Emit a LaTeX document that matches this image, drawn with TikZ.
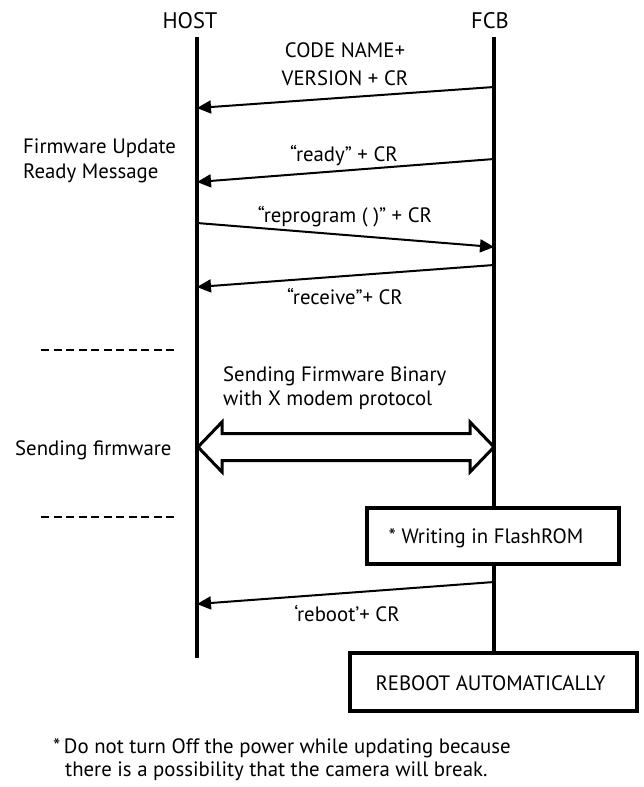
\documentclass[tikz,border=0pt]{standalone}
\usepackage{fontspec}
\setmainfont{PT Sans}
\usetikzlibrary{arrows.meta,calc}
\begin{document}
\begin{tikzpicture}[x=1pt,y=-1pt,
  lbl/.style={font=\fontsize{20.8}{24}\selectfont, inner sep=0pt, anchor=base},
  head/.style={font=\fontsize{22.5}{26}\selectfont, inner sep=0pt, anchor=base},
  lifeline/.style={line width=3.7pt},
  msg/.style={line width=2pt, -{Triangle[length=14pt,width=13pt]}},
  box/.style={draw, line width=3.2pt, inner sep=0pt},
  boxtext/.style={font=\fontsize{20.8}{24}\selectfont, inner sep=0pt, anchor=base},
  note/.style={font=\fontsize{20.8}{24}\selectfont, inner sep=0pt, anchor=base west},
  sep/.style={line width=2pt, dash pattern=on 8pt off 4.5pt}]
\useasboundingbox (0,0) rectangle (643,787);
% headings
\node[head] (host) at (190,28) {HOST};
\node[head] (fcb) at (490,28) {FCB};
% lifeline coordinates
\coordinate (hT) at (197,37);
\coordinate (hB) at (197,658);
\coordinate (fT) at (494,37);
% boxes
\node[box, minimum width=252pt, minimum height=56pt] (write) at (493,536) {};
\node[boxtext] (writet) at (486,543) {* Writing in FlashROM};
\node[box, minimum width=287pt, minimum height=58pt] (reboot) at (493.5,682) {};
\node[boxtext] (reboott) at (490.5,690) {REBOOT AUTOMATICALLY};
% lifelines
\draw[lifeline] (hT) -- (hB);
\draw[lifeline] (fT) -- (fT |- write.north);
\draw[lifeline] (fT |- write.south) -- (fT |- reboot.north);
% message end points
\coordinate (m1s) at (494,87);  \coordinate (m1e) at (197,108);
\coordinate (m2s) at (494,159); \coordinate (m2e) at (197,182);
\coordinate (m3s) at (197,223); \coordinate (m3e) at (494,247);
\coordinate (m4s) at (494,265); \coordinate (m4e) at (197,287);
\coordinate (m5s) at (494,582); \coordinate (m5e) at (197,604);
\draw[msg] (m1s) -- (m1e);
\draw[msg] (m2s) -- (m2e);
\draw[msg] (m3s) -- (m3e);
\draw[msg] (m4s) -- (m4e);
\draw[msg] (m5s) -- (m5e);
% message labels
\node[lbl] (l1a) at (345,57) {CODE NAME+};
\node[lbl] (l1b) at (345,85) {VERSION + CR};
\node[lbl] (l2) at (344,161) {“ready” + CR};
\node[lbl] (l3) at (345,222) {“reprogram ( )” + CR};
\node[lbl] (l4) at (345,304) {“receive”+ CR};
\node[lbl] (l5) at (347,621) {‘reboot’+ CR};
% side notes
\node[lbl, anchor=base west] (fu1) at (23,153) {Firmware Update};
\node[lbl, anchor=base west] (fu2) at (23,178) {Ready Message};
\node[lbl, anchor=base west] (sf) at (15,455) {Sending firmware};
\node[lbl, anchor=base west] (sb1) at (223,381) {Sending Firmware Binary};
\node[lbl, anchor=base west] (sb2) at (223,405) {with X modem protocol};
% separators
\coordinate (d1a) at (41,350); \coordinate (d1b) at (178,350);
\coordinate (d2a) at (41,517); \coordinate (d2b) at (178,517);
\draw[sep] (d1a) -- (d1b);
\draw[sep] (d2a) -- (d2b);
% double arrow
\coordinate (dl) at (198,447);
\coordinate (dr) at (494,447);
\draw[line width=3pt, line join=miter, fill=white]
  (dl) -- ++(24,-25) -- ++(0,11.5) -- ($(dr)+(-24,-13.5)$) -- ++(0,-11.5) -- (dr)
  -- ++(-24,25) -- ++(0,-11.5) -- ($(dl)+(24,13.5)$) -- ++(0,11.5) -- cycle;
% footnote
\node[note] (fn1) at (53,753) {*\,Do not turn Off the power while updating because};
\node[note] (fn2) at (65,776) {there is a possibility that the camera will break.};
\end{tikzpicture}
\end{document}
